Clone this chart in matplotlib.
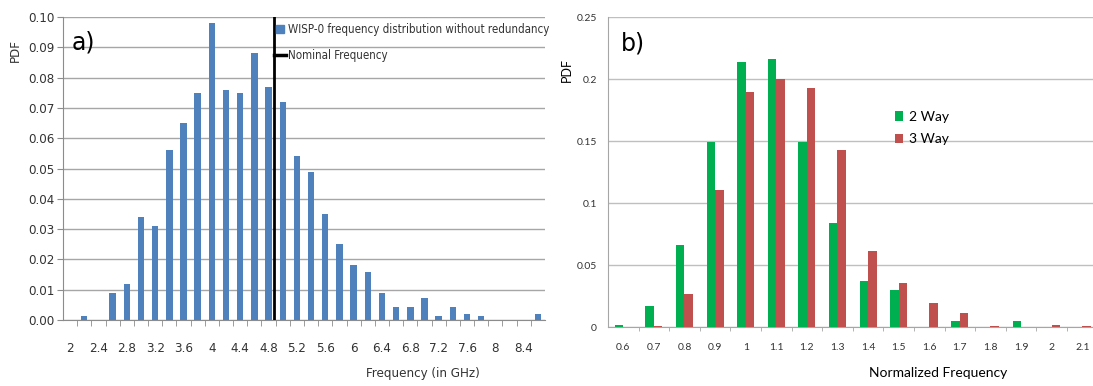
import numpy as np
import matplotlib.pyplot as plt
from matplotlib.lines import Line2D
from matplotlib.font_manager import FontProperties

# panel a: WISP-0 frequency distribution
freq_a = [2.0, 2.2, 2.4, 2.6, 2.8, 3.0, 3.2, 3.4, 3.6, 3.8, 4.0, 4.2, 4.4, 4.6, 4.8, 5.0, 5.2,
          5.4, 5.6, 5.8, 6.0, 6.2, 6.4, 6.6, 6.8, 7.0, 7.2, 7.4, 7.6, 7.8, 8.0, 8.2, 8.4, 8.6]
pdf_a = [0.0, 0.0013, 0.0, 0.009, 0.012, 0.034, 0.031, 0.056, 0.065, 0.075, 0.098, 0.076,
         0.075, 0.088, 0.077, 0.072, 0.054, 0.049, 0.035, 0.025, 0.018, 0.016, 0.009, 0.0044,
         0.0044, 0.0073, 0.0014, 0.0043, 0.0021, 0.0014, 0.0, 0.0, 0.0, 0.0021]
labels_a = ['2', '', '2.4', '', '2.8', '', '3.2', '', '3.6', '', '4', '', '4.4', '', '4.8', '',
            '5.2', '', '5.6', '', '6', '', '6.4', '', '6.8', '', '7.2', '', '7.6', '', '8', '',
            '8.4', '']
nominal = 4.88

# panel b: normalized frequency, 2 way vs 3 way
freq_b = ['0.6', '0.7', '0.8', '0.9', '1', '1.1', '1.2', '1.3', '1.4', '1.5', '1.6', '1.7',
          '1.8', '1.9', '2', '2.1']
way2 = [0.0022, 0.0169, 0.0661, 0.1497, 0.2142, 0.2166, 0.1497, 0.0839, 0.0371, 0.0298, 0.0,
        0.0048, 0.0, 0.0048, 0.0, 0.0]
way3 = [0.0, 0.0008, 0.0272, 0.1107, 0.1898, 0.2002, 0.1932, 0.1432, 0.0616, 0.0358, 0.0196,
        0.0116, 0.0008, 0.0, 0.0022, 0.001]

def narrow(size):
    return FontProperties(family='DejaVu Sans', stretch='condensed', size=size)

calib = ['Lato', 'DejaVu Sans']
W, H = 1093, 386
fg = '#333333'

fig = plt.figure(figsize=(W / 100, H / 100), dpi=100)

# ---------- a) ----------
ax = fig.add_axes([63 / W, 1 - 320 / H, 482 / W, 303 / H])
xa = np.arange(len(freq_a))
ax.bar(xa, pdf_a, width=0.45, color='#4F81BD', zorder=3)
ax.axvline(np.interp(nominal, freq_a, xa), color='black', lw=2, zorder=4)
ax.set_xlim(-0.5, len(freq_a) - 0.5)
ax.set_ylim(0, 0.10)
ax.set_yticks(np.arange(0, 0.101, 0.01))
ax.set_yticklabels(['%.2f' % v for v in np.arange(0, 0.101, 0.01)], fontproperties=narrow(9.5),
                   color=fg)
ax.set_xticks(xa)
ax.set_xticklabels(labels_a, fontproperties=narrow(9.5), color=fg)
ax.tick_params(axis='x', which='major', length=0, pad=16)
ax.set_xticks(xa[:-1] + 0.5, minor=True)
ax.tick_params(axis='x', which='minor', length=4, color='#8c8c8c', direction='out')
ax.tick_params(axis='y', length=4, color='#8c8c8c', pad=2)
ax.grid(axis='y', color='#a6a6a6', lw=1, zorder=0)
for s in ['top', 'right']:
    ax.spines[s].set_visible(False)
ax.spines['left'].set_color('#8c8c8c')
ax.spines['bottom'].set_color('#8c8c8c')
ax.text(0.018, 0.955, 'a)', transform=ax.transAxes, fontsize=17, va='top', ha='left')
fig.text(15 / W, 1 - 50 / H, 'PDF', rotation=90, ha='center', va='center',
         fontproperties=narrow(9.5), color=fg)
fig.text(423 / W, 1 - 374 / H, 'Frequency (in GHz)', ha='center', va='center',
         fontproperties=narrow(9.5), color=fg)
handles = [Line2D([], [], marker='s', color='#4F81BD', ls='None', markersize=6),
           Line2D([], [], color='black', lw=2.5)]
fig.legend(handles, ['WISP-0 frequency distribution without redundancy', 'Nominal Frequency'],
           loc='upper left', bbox_to_anchor=(274 / W, 1 - 23 / H), frameon=False,
           prop=narrow(8.3), handlelength=1.0, handletextpad=0.2,
           labelspacing=1.1, borderpad=0, borderaxespad=0, labelcolor=fg)

# ---------- b) ----------
bx = fig.add_axes([608 / W, 1 - 327.3 / H, 485 / W, 310 / H])
xb = np.arange(len(freq_b))
bw = 0.28
bx.bar(xb - bw / 2, way2, width=bw, color='#00B050', label='2 Way', zorder=3)
bx.bar(xb + bw / 2, way3, width=bw, color='#C0504D', label='3 Way', zorder=3)
bx.set_xlim(-0.5, len(freq_b) - 0.65)
bx.set_ylim(0, 0.25)
bx.set_yticks([0, 0.05, 0.1, 0.15, 0.2, 0.25])
bx.set_yticklabels(['0', '0.05', '0.1', '0.15', '0.2', '0.25'], family=calib, fontsize=7.5,
                   color='#333333')
bx.set_xticks(xb)
bx.set_xticklabels(freq_b, family=calib, fontsize=7.5, color='#333333')
bx.tick_params(axis='x', which='major', length=0, pad=11)
bx.set_xticks(xb[:-1] + 0.5, minor=True)
bx.tick_params(axis='x', which='minor', length=3, color='#a6a6a6', direction='out')
bx.tick_params(axis='y', length=0, pad=8)
bx.grid(axis='y', color='#bfbfbf', lw=1, zorder=0)
for s in ['top', 'right']:
    bx.spines[s].set_visible(False)
bx.spines['left'].set_color('#a6a6a6')
bx.spines['bottom'].set_color('#a6a6a6')
bx.text(0.027, 0.955, 'b)', transform=bx.transAxes, fontsize=17, va='top', ha='left')
fig.text(567 / W, 1 - 70 / H, 'PDF', rotation=90, ha='center', va='center', family=calib,
         fontsize=9)
fig.text(938 / W, 1 - 373 / H, 'Normalized Frequency', ha='center', va='center', family=calib,
         fontsize=10)
bx.legend(loc='upper left', bbox_to_anchor=(895 / W, 1 - 111 / H),
          bbox_transform=fig.transFigure, frameon=False, prop={'family': calib, 'size': 10},
          handlelength=0.6, handleheight=0.7, handletextpad=0.4, labelspacing=0.75,
          borderpad=0, borderaxespad=0)

fig.savefig('out.png', dpi=100)
